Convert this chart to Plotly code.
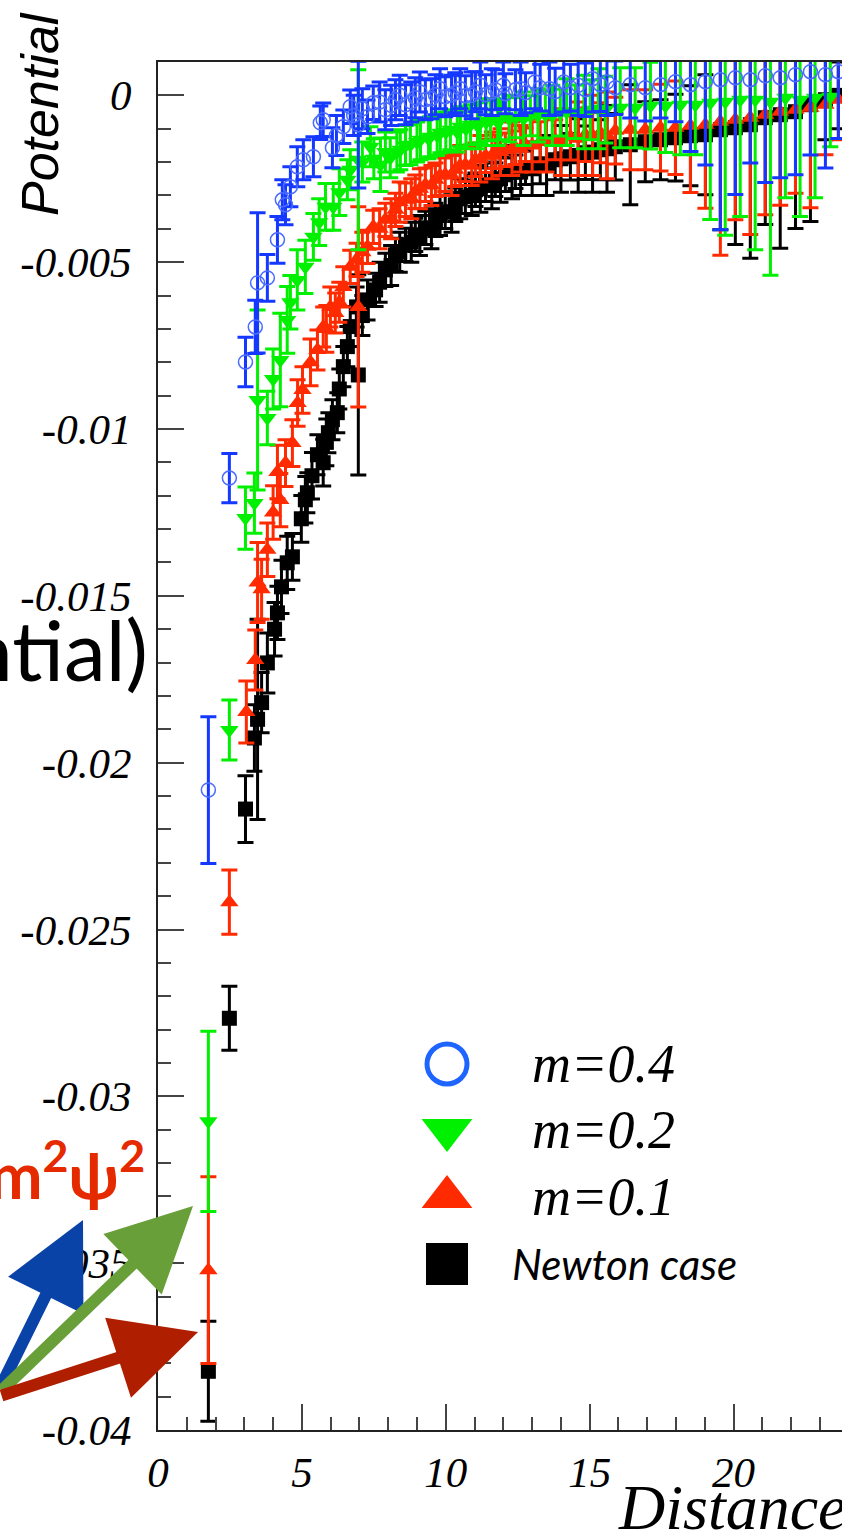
import plotly.graph_objects as go

# ---------------- data ----------------
x_newton = [1.75, 2.48, 3.04, 3.35, 3.46, 3.80, 4.15, 4.29, 4.49, 4.67, 4.98, 5.12, 5.19, 5.54, 5.74,
            5.92, 6.06, 6.23, 6.44, 6.58, 6.68, 6.90, 6.96, 7.28, 7.56, 7.90, 8.25, 8.60, 8.94, 9.29,
            9.64, 9.98, 10.33, 10.68, 11.03, 11.38, 11.72, 12.07, 12.42, 12.77, 13.28, 13.80, 14.33,
            14.85, 15.37, 15.89, 16.41, 16.93, 17.46, 17.98, 18.50, 19.02, 19.54, 20.06, 20.58, 21.10,
            21.62, 22.15, 22.67, 23.19, 23.64,
            3.60, 4.05, 5.35, 5.85, 6.30, 7.10, 7.70, 8.10, 8.40, 8.80, 9.10, 9.50, 9.80, 10.20, 10.50,
            10.90, 11.20, 11.60, 11.90, 12.30, 12.60, 13.00, 13.50, 14.00, 14.60, 15.10, 15.60]
y_newton = [-0.03824, -0.02766, -0.02139, -0.01926, -0.01870, -0.01701, -0.01551, -0.01473, -0.01401,
            -0.01383, -0.01269, -0.01212, -0.01191, -0.01077, -0.01101, -0.01011, -0.00972, -0.00951,
            -0.00813, -0.00753, -0.00693, -0.00634, -0.00838, -0.00613, -0.00583, -0.00523, -0.00478,
            -0.00448, -0.00418, -0.00397, -0.00373, -0.00349, -0.00328, -0.00304, -0.00283, -0.00268,
            -0.00253, -0.00238, -0.00229, -0.00217, -0.00205, -0.00193, -0.00184, -0.00172, -0.00163,
            -0.00154, -0.00148, -0.00139, -0.00133, -0.00127, -0.00121, -0.00118, -0.00103, -0.00097,
            -0.00088, -0.00067, -0.00058, -0.00049, -0.00028, -0.00013, 0.0,
            -0.0182, -0.0160, -0.0114, -0.0104, -0.0088, -0.0066, -0.0056, -0.0051, -0.0047, -0.0044,
            -0.0042, -0.0040, -0.0036, -0.0035, -0.0031, -0.0030, -0.0028, -0.0027, -0.0025, -0.0023,
            -0.0023, -0.0022, -0.0021, -0.0019, -0.0018, -0.0017, -0.0016]
e_newton = [0.0015, 0.00096, 0.0010, 0.0010, 0.0030, 0.0009, 0.0008, 0.0008, 0.0008, 0.0007, 0.0007,
            0.0007, 0.0006, 0.0006, 0.0007, 0.0006, 0.0006, 0.0006, 0.0006, 0.0006, 0.0006, 0.0006,
            0.0030, 0.0006, 0.0005, 0.0005, 0.0005, 0.0005, 0.0005, 0.0005, 0.0005, 0.0005, 0.0005,
            0.0005, 0.0005, 0.0005, 0.0005, 0.0005, 0.0005, 0.0005, 0.0006, 0.0006, 0.0007, 0.0008,
            0.0009, 0.0010, 0.0018, 0.0012, 0.0012, 0.0013, 0.0015, 0.0018, 0.0030, 0.0035, 0.0040,
            0.0032, 0.0040, 0.0035, 0.0035, 0.0012, 0.0010,
            0.0009, 0.0008, 0.0007, 0.0007, 0.0006, 0.0006, 0.0006, 0.0006, 0.0006, 0.0006, 0.0006,
            0.0006, 0.0006, 0.0006, 0.0006, 0.0006, 0.0007, 0.0007, 0.0007, 0.0008, 0.0007, 0.0008,
            0.0009, 0.0010, 0.0011, 0.0012, 0.0013]

x_m01 = [1.75, 2.48, 3.07, 3.38, 3.46, 3.80, 4.15, 4.25, 4.43, 4.67, 4.85, 5.02, 5.54, 5.74, 5.99,
         6.16, 6.44, 6.68, 6.90, 6.96, 7.28, 7.48, 7.90, 8.25, 8.60, 8.94, 9.29, 9.64, 9.98, 10.33,
         10.68, 11.03, 11.38, 11.72, 12.07, 12.42, 12.77, 13.28, 13.80, 14.33, 14.85, 15.37, 15.89,
         16.41, 16.93, 17.46, 17.98, 18.50, 19.02, 19.54, 20.06, 20.58, 21.10, 21.62, 22.15, 22.67,
         23.19, 23.64,
         3.60, 4.00, 5.30, 5.85, 6.30, 7.10, 7.70, 8.10, 8.40, 8.80, 9.10, 9.50, 9.80, 10.20, 10.50,
         10.90, 11.20, 11.60, 11.90, 12.30, 12.60, 13.00, 13.50, 14.00, 14.60, 15.10, 15.60]
y_m01 = [-0.03521, -0.02418, -0.01848, -0.01692, -0.01460, -0.01362, -0.01129, -0.01213, -0.01102,
         -0.01042, -0.00922, -0.00883, -0.00763, -0.00694, -0.00634, -0.00652, -0.00574, -0.00514,
         -0.00493, -0.00634, -0.00454, -0.00394, -0.00373, -0.00343, -0.00313, -0.00289, -0.00268,
         -0.00253, -0.00238, -0.00223, -0.00208, -0.00193, -0.00181, -0.00169, -0.00163, -0.00157,
         -0.00148, -0.00139, -0.00133, -0.00124, -0.00118, -0.00112, -0.00106, -0.00103, -0.00103,
         -0.00097, -0.00097, -0.00091, -0.00088, -0.00079, -0.00073, -0.00067, -0.00058, -0.00049,
         -0.00043, -0.00037, -0.00028, -0.00013,
         -0.0148, -0.0125, -0.0080, -0.0070, -0.0062, -0.0047, -0.0040, -0.0037, -0.0032, -0.0031,
         -0.0028, -0.0027, -0.0024, -0.0024, -0.0021, -0.0021, -0.0019, -0.0018, -0.0017, -0.0016,
         -0.0016, -0.0015, -0.0014, -0.0014, -0.0013, -0.0012, -0.0012]
e_m01 = [0.0028, 0.00096, 0.00093, 0.0009, 0.0012, 0.0008, 0.0008, 0.0008, 0.0007, 0.0007, 0.0007,
         0.0007, 0.0006, 0.0006, 0.0006, 0.0006, 0.0006, 0.0005, 0.0005, 0.0030, 0.0005, 0.0005,
         0.0005, 0.0005, 0.0005, 0.0005, 0.0005, 0.0005, 0.0005, 0.0005, 0.0005, 0.0005, 0.0005,
         0.0005, 0.0005, 0.0005, 0.0005, 0.0006, 0.0006, 0.0007, 0.0008, 0.0009, 0.0010, 0.0012,
         0.0012, 0.0013, 0.0014, 0.0020, 0.0025, 0.0040, 0.0030, 0.0035, 0.0030, 0.0028, 0.0025,
         0.0030, 0.0015, 0.0012,
         0.0009, 0.0008, 0.0007, 0.0007, 0.0006, 0.0006, 0.0006, 0.0006, 0.0006, 0.0006, 0.0006,
         0.0006, 0.0006, 0.0006, 0.0006, 0.0006, 0.0007, 0.0007, 0.0007, 0.0008, 0.0007, 0.0008,
         0.0009, 0.0010, 0.0011, 0.0012, 0.0013]

x_m02 = [1.75, 2.48, 3.04, 3.35, 3.46, 3.80, 4.25, 4.49, 4.84, 5.12, 5.40, 5.82, 6.09, 6.58, 6.68,
         6.96, 7.38, 7.73, 8.07, 8.42, 8.77, 9.12, 9.46, 9.81, 10.16, 10.51, 10.86, 11.20, 11.55,
         11.90, 12.42, 12.94, 13.46, 13.98, 14.50, 15.02, 15.54, 16.06, 16.58, 17.11, 17.63, 18.15,
         18.67, 19.19, 19.71, 20.23, 20.75, 21.28, 21.80, 22.31, 22.83, 23.36,
         4.00, 4.60, 5.60, 6.30, 7.10, 7.50, 7.90, 8.30, 8.60, 9.00, 9.40, 9.70, 10.00, 10.40, 10.70,
         11.10, 11.40, 11.80, 12.20, 12.70, 13.20, 13.70, 14.20, 14.80, 15.30]
y_m02 = [-0.03075, -0.01902, -0.01267, -0.01222, -0.00913, -0.00967, -0.00793, -0.00673, -0.00553,
         -0.00514, -0.00424, -0.00334, -0.00334, -0.00253, -0.00223, -0.00193, -0.00154, -0.00208,
         -0.00187, -0.00163, -0.00148, -0.00133, -0.00124, -0.00112, -0.00103, -0.00094, -0.00088,
         -0.00082, -0.00076, -0.00073, -0.00067, -0.00061, -0.00058, -0.00052, -0.00049, -0.00043,
         -0.00043, -0.00037, -0.00037, -0.00031, -0.00031, -0.00028, -0.00028, -0.00022, -0.00019,
         -0.00013, -0.00013, -0.00019, -0.00007, -0.00013, -0.00007, -0.00004,
         -0.0085, -0.0062, -0.0038, -0.0029, -0.0020, -0.0019, -0.0017, -0.0017, -0.0015, -0.0014,
         -0.0013, -0.0012, -0.0011, -0.0011, -0.0010, -0.0009, -0.0008, -0.0008, -0.0007, -0.0007,
         -0.0006, -0.0006, -0.0005, -0.0005, -0.0004]
e_m02 = [0.0027, 0.0009, 0.00093, 0.0009, 0.0027, 0.0008, 0.0014, 0.0010, 0.0009, 0.0008, 0.0007,
         0.0007, 0.0007, 0.0006, 0.0006, 0.0027, 0.0006, 0.0008, 0.0006, 0.0006, 0.0006, 0.0006,
         0.0006, 0.0006, 0.0006, 0.0006, 0.0006, 0.0006, 0.0006, 0.0006, 0.0006, 0.0006, 0.0007,
         0.0007, 0.0008, 0.0009, 0.0010, 0.0012, 0.0012, 0.0013, 0.0014, 0.0015, 0.0015, 0.0035,
         0.0040, 0.0035, 0.0045, 0.0052, 0.0030, 0.0035, 0.0030, 0.0015,
         0.0009, 0.0008, 0.0007, 0.0007, 0.0006, 0.0006, 0.0006, 0.0006, 0.0006, 0.0006, 0.0006,
         0.0006, 0.0006, 0.0006, 0.0006, 0.0007, 0.0007, 0.0007, 0.0007, 0.0008, 0.0008, 0.0009,
         0.0010, 0.0011, 0.0012]

x_m04 = [1.75, 2.48, 3.04, 3.38, 3.46, 3.80, 4.15, 4.32, 4.43, 4.60, 4.84, 5.05, 5.40, 5.64, 5.74,
         6.06, 6.44, 6.68, 6.96, 7.28, 7.48, 7.90, 8.25, 8.60, 8.94, 9.29, 9.64, 9.98, 10.33, 10.68,
         11.03, 11.38, 11.72, 12.07, 12.42, 12.77, 13.28, 13.80, 14.33, 14.85, 15.37, 15.89, 16.41,
         16.93, 17.46, 17.98, 18.50, 19.02, 19.54, 20.06, 20.58, 21.10, 21.62, 22.15, 22.67, 23.19,
         23.64,
         6.20, 6.80, 7.10, 7.70, 8.10, 8.40, 8.80, 9.10, 9.50, 9.80, 10.20, 10.50, 10.90, 11.20,
         11.60, 12.00, 12.60, 13.10, 13.60, 14.10, 14.60, 15.10, 15.60]
y_m04 = [-0.02082, -0.01147, -0.00799, -0.00694, -0.00562, -0.00547, -0.00433, -0.00313, -0.00328,
         -0.00274, -0.00214, -0.00193, -0.00184, -0.00082, -0.00073, -0.00157, -0.00094, -0.00034,
         -0.00088, -0.00064, -0.00022, -0.00043, -0.00013, -0.00028, -0.00007, -0.00013, 0.00002,
         -0.00004, 0.00008, -0.00001, 0.00011, 0.00002, 0.00017, 0.00005, 0.00017, 0.00008, 0.00023,
         0.00011, 0.00023, 0.00017, 0.00032, 0.00023, 0.00032, 0.00023, 0.00032, 0.00041, 0.00032,
         0.00041, 0.00047, 0.00053, 0.00047, 0.00059, 0.00053, 0.00062, 0.00071, 0.00062, 0.00071,
         -0.0012, -0.0006, -0.0004, -0.0002, -0.0003, 0.0000, -0.0002, 0.0001, -0.0001, 0.0002,
         0.0000, 0.0002, 0.0000, 0.0003, 0.0001, 0.0003, 0.0002, 0.0004, 0.0002, 0.0004, 0.0003,
         0.0005, 0.0004]
e_m04 = [0.0022, 0.00074, 0.00074, 0.0008, 0.0021, 0.0007, 0.0007, 0.0006, 0.0006, 0.0006, 0.0006,
         0.0006, 0.0006, 0.0005, 0.0005, 0.0006, 0.0005, 0.0005, 0.0019, 0.0005, 0.0005, 0.0006,
         0.0006, 0.0006, 0.0006, 0.0006, 0.0006, 0.0006, 0.0006, 0.0006, 0.0006, 0.0006, 0.0006,
         0.0006, 0.0006, 0.0006, 0.0007, 0.0007, 0.0007, 0.0008, 0.0008, 0.0008, 0.0010, 0.0010,
         0.0010, 0.0012, 0.0020, 0.0025, 0.0045, 0.0035, 0.0025, 0.0032, 0.0030, 0.0030, 0.0025,
         0.0028, 0.0020,
         0.0006, 0.0006, 0.0006, 0.0006, 0.0006, 0.0006, 0.0006, 0.0006, 0.0006, 0.0006, 0.0006,
         0.0006, 0.0007, 0.0007, 0.0007, 0.0007, 0.0008, 0.0008, 0.0008, 0.0009, 0.0009, 0.0010,
         0.0010]

series_names = ["m=0.4", "m=0.2", "m=0.1", "Newton case"]
y_tickvals = [0, -0.005, -0.01, -0.015, -0.02, -0.025, -0.03, -0.035, -0.04]
y_ticktext = ["0", "-0.005", "-0.01", "-0.015", "-0.02", "-0.025", "-0.03", "-0.035", "-0.04"]
x_tickvals = [0, 5, 10, 15, 20]
x_ticktext = ["0", "5", "10", "15", "20"]

# ---------------- figure ----------------
W, H = 842, 1531
L, R, T, B = 158, 0, 62, 101
PW, PH = W - L - R, H - T - B


def px(xp):
    return (xp - L) / PW


def py(yp):
    return (H - B - yp) / PH


BLACK = "#000000"
RED = "#ff2a00"
GREEN = "#00f000"
BLUE_BAR = "#1438ff"
BLUE_MK = "#4a6cff"

fig = go.Figure()


def add_series(x, y, e, color, symbol, size, mk_line=0, mk_color=None):
    fig.add_trace(go.Scatter(
        x=x, y=y, mode="markers",
        error_y=dict(type="data", array=e, visible=True, color=color, thickness=3, width=8),
        marker=dict(symbol=symbol, size=size, color=mk_color or color,
                    line=dict(width=mk_line, color=mk_color or color)),
        showlegend=False, cliponaxis=True,
    ))


add_series(x_newton, y_newton, e_newton, BLACK, "square", 15)
add_series(x_m01, y_m01, e_m01, RED, "triangle-up", 16)
add_series(x_m02, y_m02, e_m02, GREEN, "triangle-down", 16)
add_series(x_m04, y_m04, e_m04, BLUE_BAR, "circle-open", 14, mk_line=1.5, mk_color=BLUE_MK)

# manual legend (overlay axes in page pixel units)
leg_x = 447
leg_y = [1064, 1130, 1197, 1264]
leg_sym = ["circle-open", "triangle-down", "triangle-up", "square"]
leg_col = ["#1e64ff", "#00f000", "#ff2a00", "#000000"]
leg_size = [40, 44, 44, 42]
for i in range(4):
    fig.add_trace(go.Scatter(
        x=[leg_x], y=[leg_y[i]], xaxis="x2", yaxis="y2", mode="markers",
        marker=dict(symbol=leg_sym[i], size=leg_size[i], color=leg_col[i],
                    line=dict(width=5 if i == 0 else 0, color=leg_col[i])),
        showlegend=False, hoverinfo="skip", cliponaxis=False,
    ))

annotations = []
for i, name in enumerate(series_names[:3]):
    annotations.append(dict(
        x=px(530), y=py(leg_y[i]), xref="paper", yref="paper", xanchor="left", yanchor="middle",
        text=name, showarrow=False,
        font=dict(family="Liberation Serif", size=54, color="black", style="italic")))
annotations.append(dict(
    x=px(510), y=py(leg_y[3]), xref="paper", yref="paper", xanchor="left", yanchor="middle",
    text=series_names[3], showarrow=False,
    font=dict(family="Lato", size=42, color="black", style="italic")))

# axis titles
annotations.append(dict(
    x=px(40), y=py(114), xref="paper", yref="paper", xanchor="center", yanchor="middle",
    text="Potential", textangle=-90, showarrow=False,
    font=dict(family="Liberation Sans", size=52, color="black", style="italic")))
annotations.append(dict(
    x=px(616), y=py(1507), xref="paper", yref="paper", xanchor="left", yanchor="middle",
    text="Distance", showarrow=False,
    font=dict(family="Liberation Serif", size=64, color="black", style="italic")))

# cropped texts of the surrounding slide
annotations.append(dict(
    x=px(150), y=py(648), xref="paper", yref="paper", xanchor="right", yanchor="middle",
    text="ntial)", showarrow=False,
    font=dict(family="Lato", size=84, color="black")))
annotations.append(dict(
    x=px(147), y=py(1170), xref="paper", yref="paper", xanchor="right", yanchor="middle",
    text="m<sup>2</sup>ψ<sup>2</sup>", showarrow=False,
    font=dict(family="Lato", size=64, color="#e62a00", weight="bold")))

# arrows
arrows = [
    ((83, 1220), (-20, 1388), "#0a43a8"),
    ((193, 1206), (-20, 1392), "#689f38"),
    ((198, 1332), (-20, 1396), "#b01e00"),
]
for (tx, ty), (sx, sy), col in arrows:
    annotations.append(dict(
        x=px(tx), y=py(ty), xref="paper", yref="paper",
        ax=sx - tx, ay=sy - ty, axref="pixel", ayref="pixel",
        text="", showarrow=True, arrowhead=2, arrowsize=1.4, arrowwidth=12,
        arrowcolor=col, standoff=0, startstandoff=0))

fig.update_layout(
    width=W, height=H,
    margin=dict(l=L, r=R, t=T, b=B, pad=0),
    paper_bgcolor="white", plot_bgcolor="white",
    showlegend=False,
    annotations=annotations,
    xaxis=dict(
        range=[0, PW / 28.78], showgrid=False, zeroline=False,
        showline=True, linecolor="#222", linewidth=2, mirror=True,
        ticks="inside", ticklen=26, tickwidth=1.5, tickcolor="#444",
        tickvals=x_tickvals, ticktext=x_ticktext,
        minor=dict(dtick=1, ticks="inside", ticklen=13, tickwidth=1.5, tickcolor="#444"),
        tickfont=dict(family="Liberation Serif", size=43, color="black", style="italic"),
        ticklabelstandoff=3,
    ),
    yaxis=dict(
        range=[-0.04, 0.001], showgrid=False, zeroline=False,
        showline=True, linecolor="#222", linewidth=2, mirror=False,
        ticks="inside", ticklen=26, tickwidth=1.5, tickcolor="#444",
        tickvals=y_tickvals, ticktext=y_ticktext,
        minor=dict(dtick=0.001, ticks="inside", ticklen=13, tickwidth=1.5, tickcolor="#444"),
        tickfont=dict(family="Liberation Serif", size=43, color="black", style="italic"),
        ticklabelstandoff=16,
    ),
    xaxis2=dict(range=[L, W], overlaying="x", visible=False, fixedrange=True),
    yaxis2=dict(range=[H - B, T], overlaying="y", visible=False, fixedrange=True),
)

fig.write_html("out.html")
